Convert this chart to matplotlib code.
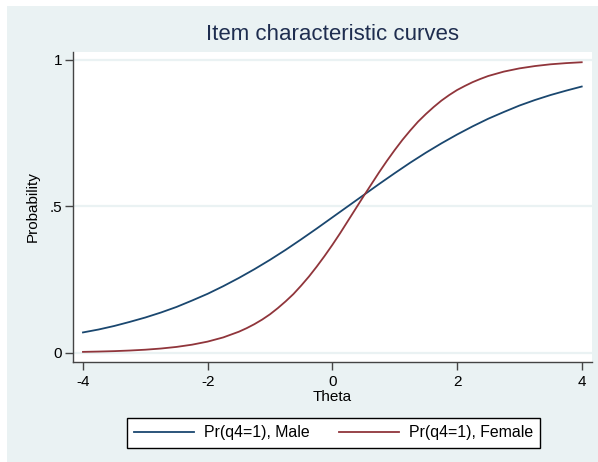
import matplotlib
matplotlib.use("Agg")
import matplotlib.pyplot as plt
from matplotlib.patches import Rectangle

theta = [-4.0, -3.75, -3.5, -3.25, -3.0, -2.75, -2.5, -2.25, -2.0, -1.75, -1.5,
         -1.25, -1.0, -0.75, -0.5, -0.25, 0.0, 0.25, 0.5, 0.75, 1.0, 1.25, 1.5,
         1.75, 2.0, 2.25, 2.5, 2.75, 3.0, 3.25, 3.5, 3.75, 4.0]
male = [0.069, 0.079, 0.091, 0.105, 0.120, 0.137, 0.156, 0.178, 0.201, 0.227,
        0.255, 0.285, 0.317, 0.351, 0.387, 0.424, 0.462, 0.500, 0.538, 0.576,
        0.613, 0.649, 0.683, 0.715, 0.745, 0.773, 0.799, 0.822, 0.844, 0.863,
        0.880, 0.895, 0.909]
theta_f = [-4.0, -3.75, -3.5, -3.25, -3.0, -2.75, -2.5, -2.25, -2.0, -1.75, -1.5,
           -1.375, -1.25, -1.125, -1.0, -0.875, -0.75, -0.625, -0.5, -0.375,
           -0.25, -0.125, 0.0, 0.125, 0.25, 0.375, 0.5, 0.625, 0.75, 0.875,
           1.0, 1.125, 1.25, 1.375, 1.5, 1.625, 1.75, 1.875, 2.0, 2.125, 2.25,
           2.375, 2.5, 2.75, 3.0, 3.25, 3.5, 3.75, 4.0]
female = [0.0026, 0.0037, 0.0051, 0.0072, 0.0100, 0.0140, 0.0195, 0.0272, 0.0377,
          0.0520, 0.0714, 0.0835, 0.0973, 0.113, 0.131, 0.152, 0.175, 0.200,
          0.229, 0.260, 0.294, 0.330, 0.368, 0.408, 0.450, 0.492, 0.534, 0.575,
          0.616, 0.655, 0.692, 0.727, 0.759, 0.789, 0.815, 0.839, 0.861, 0.880,
          0.897, 0.911, 0.924, 0.935, 0.945, 0.960, 0.971, 0.979, 0.985, 0.989,
          0.992]
xticks = [-4, -2, 0, 2, 4]
yticks = [0, 0.5, 1]
yticklabels = ["0", ".5", "1"]
labels = ["Pr(q4=1), Male", "Pr(q4=1), Female"]

plt.rcParams['font.family'] = ['Liberation Sans', 'DejaVu Sans']
W, H = 598, 462
fig = plt.figure(figsize=(W / 100, H / 100), dpi=100, facecolor='white')
bg = '#EAF2F3'
fig.patches.append(Rectangle((7 / W, 0), 1 - 7 / W, 1 - 6 / H, transform=fig.transFigure,
                             facecolor=bg, edgecolor='none', zorder=-5))

ax = fig.add_axes([73 / W, 1 - 362 / H, (592 - 73) / W, (362 - 52) / H])
ax.set_zorder(2)
ax.set_facecolor('white')
ax.set_xlim(-4.16, 4.165)
ax.set_ylim(-0.032, 1.027)
for y in yticks:
    ax.axhline(y, color=bg, lw=1.6, zorder=1)
l1, = ax.plot(theta, male, color='#1a476f', lw=1.3, zorder=3)
l2, = ax.plot(theta_f, female, color='#90353b', lw=1.3, zorder=3)

for s in ['top', 'right']:
    ax.spines[s].set_visible(False)
for s in ['left', 'bottom']:
    ax.spines[s].set_color('#444444')
    ax.spines[s].set_linewidth(1.0)
ax.set_xticks(xticks)
ax.set_xticklabels([str(t) for t in xticks])
ax.set_yticks(yticks)
ax.set_yticklabels(yticklabels)
ax.tick_params(direction='out', length=6, width=1.0, color='#444444',
               labelsize=11, labelcolor='black', pad=3)
ax.tick_params(axis='y', pad=2)
ax.set_xlabel('Theta', fontsize=11)
ax.set_ylabel('Probability', fontsize=11)
ax.xaxis.set_label_coords(0.5, (362 - 397) / 310)
ax.xaxis.label.set_va('center')
ax.yaxis.set_label_coords((33 - 73) / 519, (362 - 207) / 310)
ax.yaxis.label.set_va('center')

fig.text(332 / W, 1 - 34 / H, 'Item characteristic curves', ha='center', va='center',
         fontsize=16, color='#1e2d4f')

leg = fig.legend([l1, l2], labels, loc='center', bbox_to_anchor=(333.5 / W, 1 - 433 / H),
                 ncol=2, fontsize=11.4, frameon=True, fancybox=False, edgecolor='black',
                 framealpha=1, handlelength=3.8, handletextpad=0.6, columnspacing=1.9,
                 borderpad=0.45)
leg.get_frame().set_linewidth(1.0)

fig.savefig('out.png', dpi=100, facecolor='white')
